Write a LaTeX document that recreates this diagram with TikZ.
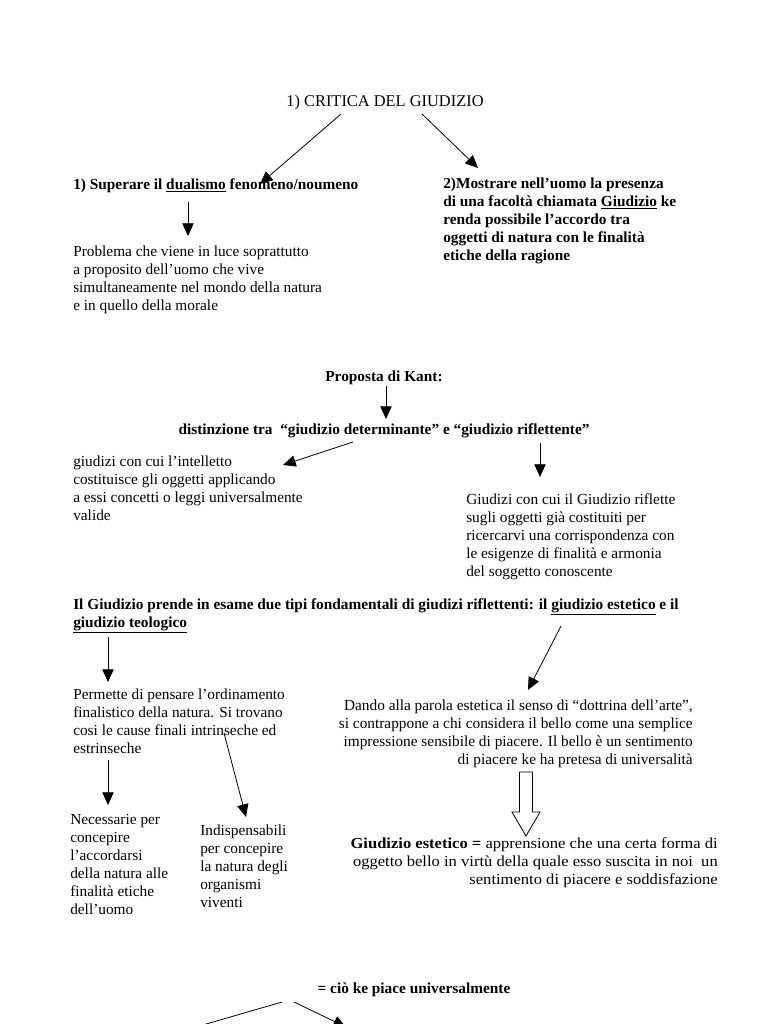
\documentclass[tikz,border=0pt]{standalone}
\usepackage{fontspec}
\setmainfont{Liberation Serif}
\newfontfamily\largo{Liberation Serif}[FakeStretch=1.08]
\usetikzlibrary{positioning}
\usetikzlibrary{arrows.meta}
\tikzset{mappa/.style={x=0.75pt, y=-0.75pt,
every node/.style={inner sep=0pt, align=left, font=\fontsize{11.5}{13.5}\selectfont}},
testo/.style={anchor=base west},
grass/.style={font=\fontsize{11.5}{13.5}\selectfont\bfseries},
freccia/.style={-{Triangle[length=9.5pt,width=8.5pt]}, line width=0.6pt}}

\begin{document}
\begin{tikzpicture}[mappa]
	\useasboundingbox (0,0) rectangle (768,1024);
	\clip (0,0) rectangle (768,1024);
	\node[anchor=base] (titolo) at (385,106) {\fontsize{12.3}{15}\selectfont 1) CRITICA DEL GIUDIZIO};
	\node[testo, grass] (dualismo) at (73,189) {1) Superare il \underline{dualismo} fenomeno/noumeno};
	\node[testo] (problema) at (73,310) {Problema che viene in luce soprattutto\\
		a proposito dell’uomo che vive\\
		simultaneamente nel mondo della natura\\
		e in quello della morale};
	\node[testo, grass] (facolta) at (443,260) {2)Mostrare nell’uomo la presenza\\
		di una facoltà chiamata \underline{Giudizio} ke\\
		renda possibile l’accordo tra\\
		oggetti di natura con le finalità\\
		etiche della ragione};
	\node[anchor=base, grass] (kant) at (384,381) {Proposta di Kant:};
	\node[anchor=base, grass] (distinzione) at (384,434) {distinzione tra \ “giudizio determinante” e “giudizio riflettente”};
	\node[testo] (determinante) at (73,520) {giudizi con cui l’intelletto\\
		costituisce gli oggetti applicando\\
		a essi concetti o leggi universalmente\\
		valide};
	\node[testo] (riflettente) at (466,576) {Giudizi con cui il Giudizio riflette\\
		sugli oggetti già costituiti per\\
		ricercarvi una corrispondenza con\\
		le esigenze di finalità e armonia\\
		del soggetto conoscente};
	\node[testo, grass] (tipi) at (73,627) {Il Giudizio prende in esame due tipi fondamentali di giudizi riflettenti: il \underline{giudizio estetico} e il\\
		\underline{giudizio teologico}};
	\node[testo] (finalismo) at (73,753) {Permette di pensare l’ordinamento\\
		finalistico della natura. Si trovano\\
		cosi le cause finali intrinseche ed\\
		estrinseche};
	\node[anchor=base east, align=right] (estetica) at (693,764) {Dando alla parola estetica il senso di “dottrina dell’arte”,\\
		si contrappone a chi considera il bello come una semplice\\
		impressione sensibile di piacere. Il bello è un sentimento\\
		di piacere ke ha pretesa di universalità};
	\node[testo] (necessarie) at (70,914) {Necessarie per\\
		concepire\\
		l’accordarsi\\
		della natura alle\\
		finalità etiche\\
		dell’uomo};
	\node[testo] (indispensabili) at (200,907) {Indispensabili\\
		per concepire\\
		la natura degli\\
		organismi\\
		viventi};
	\node[anchor=base east, align=right, font=\fontsize{11.5}{13.5}\largo] (giudizio) at (718,884) {\textbf{Giudizio estetico =} apprensione che una certa forma di\\
		oggetto bello in virtù della quale esso suscita in noi \ un\\
		sentimento di piacere e soddisfazione};
	\node[anchor=base, grass] (piace) at (414,993) {= ciò ke piace universalmente};
	\coordinate (basso1) at ([shift={(-256,45)}]piace.base);
	\coordinate (basso2) at ([shift={(-68,34)}]piace.base);
	\draw[freccia] ([shift={(-44,8)}]titolo.base) -- ([shift={(187,-5)}]dualismo.base west);
	\draw[freccia] ([shift={(37,8)}]titolo.base) -- ([shift={(35,-92)}]facolta.base west);
	\draw[freccia] ([shift={(115,13)}]dualismo.base west) -- ([shift={(115,-74)}]problema.base west);
	\draw[freccia] ([shift={(2,5)}]kant.base) -- ([shift={(2,-15)}]distinzione.base);
	\draw[freccia] ([shift={(-31,8)}]distinzione.base) -- ([shift={(210,-55)}]determinante.base west);
	\draw[freccia] ([shift={(156,9)}]distinzione.base) -- ([shift={(74,-99)}]riflettente.base west);
	\draw[freccia] ([shift={(35,10)}]tipi.base west) -- ([shift={(35,-71)}]finalismo.base west);
	\draw[freccia] ([shift={(488,-1)}]tipi.base west) -- ([shift={(-165,-74)}]estetica.base east);
	\draw[freccia] ([shift={(35,7)}]finalismo.base west) -- ([shift={(38,-109)}]necessarie.base west);
	\draw[freccia] ([shift={(151,-20)}]finalismo.base west) -- ([shift={(46,-90)}]indispensabili.base west);
	\draw[line width=0.6pt, fill=white] ([shift={(-167,8)}]estetica.base east) ++(-6.5,0) -- ++(13,0) -- ++(0,40) -- ++(7.5,0) -- ++(-14,24) -- ++(-14,-24) -- ++(7.5,0) -- cycle;
	\draw[freccia] ([shift={(-132,9)}]piace.base) -- (basso1);
	\draw[freccia] ([shift={(-120,9)}]piace.base) -- (basso2);
\end{tikzpicture}
\end{document}
